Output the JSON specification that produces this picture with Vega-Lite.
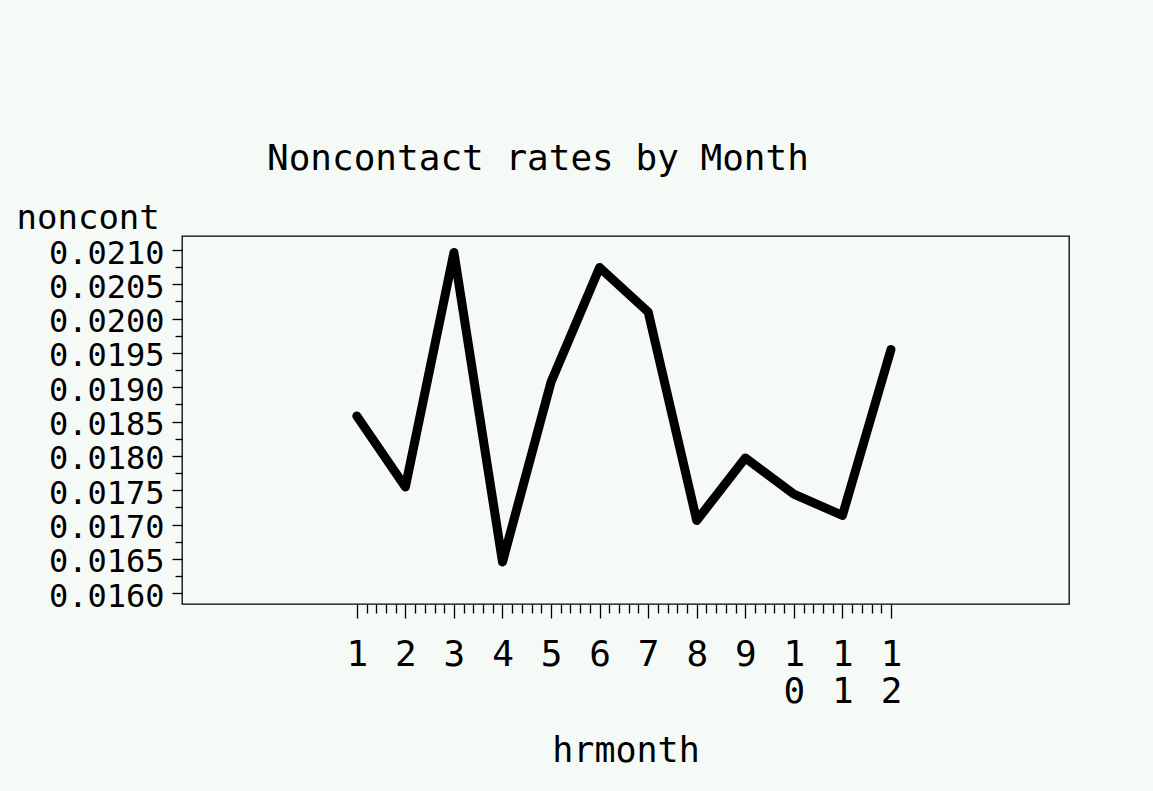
{
  "$schema": "https://vega.github.io/schema/vega-lite/v6.json",
  "width": 887,
  "height": 368,
  "autosize": {"type": "none"},
  "padding": {"left": 182, "top": 236, "right": 84, "bottom": 187},
  "background": "#f5faf6",
  "title": {
    "text": "Noncontact rates by Month",
    "anchor": "start",
    "frame": "group",
    "dx": 85,
    "offset": -5,
    "baseline": "alphabetic",
    "font": "DejaVu Sans Mono",
    "fontSize": 36,
    "fontWeight": "normal",
    "color": "#000000"
  },
  "data": {
    "values": [
      {"hrmonth": 1, "noncont": 0.018582},
      {"hrmonth": 2, "noncont": 0.017548},
      {"hrmonth": 3, "noncont": 0.020964},
      {"hrmonth": 4, "noncont": 0.016456},
      {"hrmonth": 5, "noncont": 0.019078},
      {"hrmonth": 6, "noncont": 0.020745},
      {"hrmonth": 7, "noncont": 0.020097},
      {"hrmonth": 8, "noncont": 0.01706},
      {"hrmonth": 9, "noncont": 0.017971},
      {"hrmonth": 10, "noncont": 0.017446},
      {"hrmonth": 11, "noncont": 0.017133},
      {"hrmonth": 12, "noncont": 0.019551}
    ]
  },
  "mark": {"type": "line", "color": "#000000", "strokeWidth": 9, "strokeCap": "round", "strokeJoin": "round"},
  "encoding": {
    "x": {
      "field": "hrmonth",
      "type": "quantitative",
      "scale": {"domain": [-2.6, 15.666], "nice": false, "zero": false},
      "axis": {
        "values": [1, 1.2, 1.4, 1.6, 1.8, 2, 2.2, 2.4, 2.6, 2.8, 3, 3.2, 3.4, 3.6, 3.8, 4, 4.2, 4.4, 4.6, 4.8, 5, 5.2, 5.4, 5.6, 5.8, 6, 6.2, 6.4, 6.6, 6.8, 7, 7.2, 7.4, 7.6, 7.8, 8, 8.2, 8.4, 8.6, 8.8, 9, 9.2, 9.4, 9.6, 9.8, 10, 10.2, 10.4, 10.6, 10.8, 11, 11.2, 11.4, 11.6, 11.8, 12],
        "tickCount": 200,
        "tickMinStep": 0.1,
        "labelExpr": "abs(datum.value - round(datum.value)) < 0.01 ? (datum.value >= 9.99 ? split(toString(round(datum.value)), '') : toString(round(datum.value))) : ''",
        "tickSize": {"condition": {"test": "abs(datum.value - round(datum.value)) < 0.01", "value": 14}, "value": 9},
        "labelFontSize": 36,
        "labelLineHeight": 37,
        "labelBaseline": "top",
        "labelPadding": 19,
        "labelOverlap": false,
        "labelFlush": false,
        "title": "hrmonth",
        "titleFontSize": 35,
        "titleBaseline": "alphabetic",
        "titleY": 157
      }
    },
    "y": {
      "field": "noncont",
      "type": "quantitative",
      "scale": {"domain": [0.015844, 0.021204], "nice": false, "zero": false},
      "axis": {
        "values": [0.016, 0.01625, 0.0165, 0.01675, 0.017, 0.01725, 0.0175, 0.01775, 0.018, 0.01825, 0.0185, 0.01875, 0.019, 0.01925, 0.0195, 0.01975, 0.02, 0.02025, 0.0205, 0.02075, 0.021],
        "tickCount": 200,
        "format": ".4f",
        "labelExpr": "round(datum.value*4000) % 2 === 0 ? datum.label : ''",
        "tickSize": {"condition": {"test": "round(datum.value*4000) % 2 === 0", "value": 10}, "value": 7},
        "labelFontSize": 32,
        "labelBaseline": "middle",
        "labelOffset": 3,
        "labelPadding": 8,
        "labelOverlap": false,
        "labelFlush": false,
        "title": "noncont",
        "titleFontSize": 34,
        "titleAngle": 0,
        "titleAlign": "left",
        "titleBaseline": "alphabetic",
        "titleX": -166,
        "titleY": -8
      }
    }
  },
  "config": {
    "view": {"stroke": "#000000", "strokeWidth": 1.3},
    "axis": {
      "domain": false,
      "grid": false,
      "tickColor": "#000000",
      "tickWidth": 1.3,
      "labelColor": "#000000",
      "titleColor": "#000000",
      "labelFont": "DejaVu Sans Mono",
      "titleFont": "DejaVu Sans Mono",
      "titleFontWeight": "normal"
    }
  }
}
